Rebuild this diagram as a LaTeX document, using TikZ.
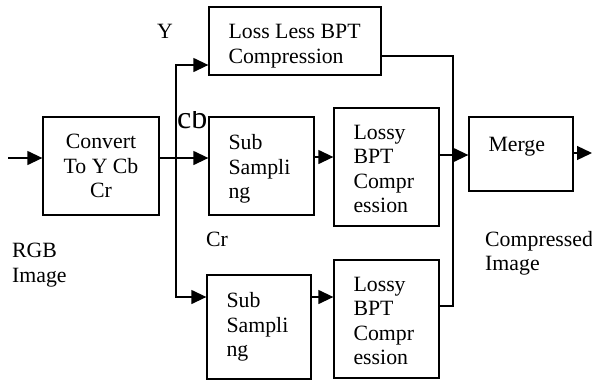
\documentclass[tikz,border=0pt]{standalone}
\usepackage{fontspec}
\setmainfont{Liberation Serif}
\usetikzlibrary{arrows.meta}
\begin{document}
\begin{tikzpicture}[x=1pt,y=-1pt,
  box/.style={draw, line width=1.3pt, inner sep=0pt},
  txt/.style={font=\fontsize{21.8}{24.5}\selectfont, align=left, inner sep=0pt, anchor=north west, execute at begin node=\strut},
  lbl/.style={font=\fontsize{21.8}{24.5}\selectfont, inner sep=0pt, anchor=base west},
  wire/.style={line width=1.3pt},
  arr/.style={line width=1.3pt, -{Triangle[length=15pt,width=14pt]}}]
\useasboundingbox (0,0) rectangle (592,381);
% boxes
\node[box, minimum width=116pt, minimum height=98pt] (conv) at (101,166) {};
\node[box, minimum width=172pt, minimum height=68pt] (lossless) at (295,41) {};
\node[box, minimum width=105pt, minimum height=98pt] (sub1) at (261.5,166) {};
\node[box, minimum width=105pt, minimum height=118pt] (lossy1) at (386.5,167) {};
\node[box, minimum width=104pt, minimum height=74pt] (merge) at (521,154) {};
\node[box, minimum width=104pt, minimum height=104pt] (sub2) at (259,327) {};
\node[box, minimum width=105pt, minimum height=118pt] (lossy2) at (386.5,319) {};
% box texts
\node[txt, align=center, anchor=north] (convt) at ([yshift=-18pt]conv.north) {Convert\\To Y Cb\\Cr};
\node[txt] (losslesst) at ([shift={(20,18)}]lossless.north west) {Loss Less BPT\\Compression};
\node[txt] (sub1t) at ([shift={(20,18)}]sub1.north west) {Sub\\Sampli\\ng};
\node[txt] (lossy1t) at ([shift={(20,17.5)}]lossy1.north west) {Lossy\\BPT\\Compr\\ession};
\node[txt] (merget) at ([shift={(20,18)}]merge.north west) {Merge};
\node[txt] (sub2t) at ([shift={(20,18)}]sub2.north west) {Sub\\Sampli\\ng};
\node[txt] (lossy2t) at ([shift={(20,17.5)}]lossy2.north west) {Lossy\\BPT\\Compr\\ession};
% labels
\node[lbl] (ylbl) at (157,38) {Y};
\begin{scope}
\clip (170,111) rectangle (215,140);
\node[inner sep=0pt, anchor=base west, font=\fontsize{32}{38}\selectfont] (cblbl) at (177,128) {cb};
\end{scope}
\node[lbl] (crlbl) at (206,246) {Cr};
\node[txt] (rgb) at (12,243) {RGB\\Image};
\node[txt] (comp) at (485,231) {Compressed\\Image};
% connectors
\coordinate (in) at (8,158);
\coordinate (sp) at (176,158);
\coordinate (bx) at (453,56);
\coordinate (out) at (592,153);
\draw[arr] (in) -- (in -| conv.west);
\draw[arr] (conv.east |- sp) -- (sub1.west |- sp);
\draw[arr] (sp) |- (lossless.west |- 0,65);
\draw[arr] (sp) |- (sub2.west |- 0,297);
\draw[arr] (sub1.east |- 0,157) -- (lossy1.west |- 0,157);
\draw[arr] (sub2.east |- 0,297) -- (lossy2.west |- 0,297);
\draw[wire] (lossless.east |- bx) -- (bx) |- (lossy2.east |- 0,306);
\draw[arr] (lossy1.east |- 0,155) -- (merge.west |- 0,155);
\draw[arr] (merge.east |- out) -- (out);
\end{tikzpicture}
\end{document}
